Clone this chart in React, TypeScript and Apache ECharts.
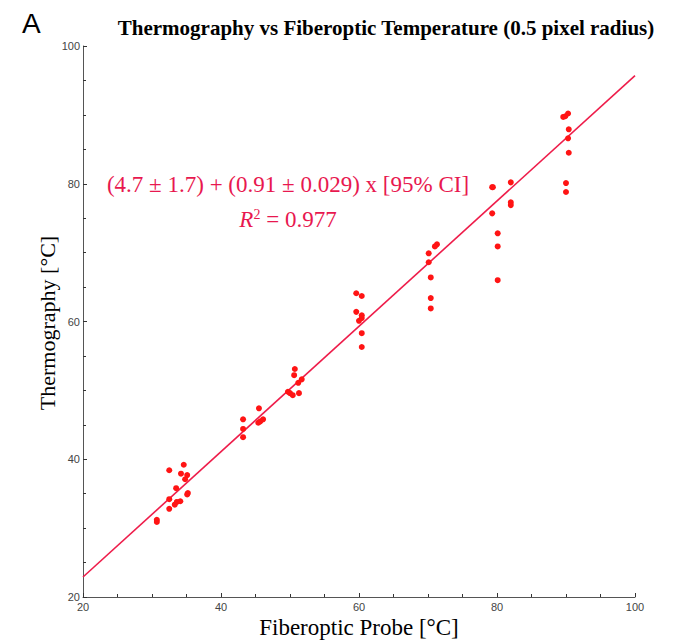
import React, { useEffect, useRef } from "react";
import * as echarts from "echarts";

const probeTemps: number[] = [
  30.7, 30.7, 32.5, 34.6, 34.2, 35.1, 34.8, 33.5, 32.5, 33.6, 34.1, 32.5, 33.3, 35.2, 35.1,
  43.2, 43.2, 43.2, 45.5, 45.4, 45.7, 46.1,
  49.7, 50.0, 50.4, 51.3, 51.2, 51.7, 50.6, 50.7,
  59.6, 60.4, 59.6, 60.4, 60.4, 60.0, 60.4, 60.4,
  71.3, 71.0, 70.1, 70.1, 70.4, 70.4, 70.4,
  79.3, 79.4, 82.0, 82.0, 82.0, 79.3, 80.1, 80.1, 80.1,
  90.0, 90.0, 89.6, 89.9, 90.3, 90.4, 90.3, 90.4,
];
const thermoTemps: number[] = [
  31.2, 30.9, 38.4, 39.2, 37.9, 37.7, 37.1, 35.8, 34.2, 33.8, 33.9, 32.8, 33.4, 35.1, 34.9,
  43.2, 44.4, 45.8, 47.4, 45.3, 45.5, 45.8,
  49.8, 49.6, 49.3, 49.6, 51.1, 51.6, 52.2, 53.1,
  64.1, 63.7, 61.4, 60.9, 60.5, 60.1, 58.3, 56.3,
  71.2, 70.9, 69.9, 68.6, 66.4, 63.4, 61.9,
  79.5, 79.5, 80.2, 77.3, 76.9, 75.7, 72.8, 70.9, 66.0,
  80.1, 78.8, 89.7, 89.8, 90.2, 87.9, 86.6, 84.5,
];
const fitIntercept = 4.7;
const fitSlope = 0.91;
const axisRange: number[] = [20, 100];

const SERIF = "Liberation Serif, Times New Roman, serif";
const TEXT_RED = "#e8184f";

export default function App() {
  const ref = useRef<HTMLDivElement>(null);
  useEffect(() => {
    if (!ref.current) return;
    const chart = echarts.init(ref.current, null, { renderer: "svg" });
    const points = probeTemps.map((x, i) => [x, thermoTemps[i]]);
    const fitLine = axisRange.map((x) => [x, fitIntercept + fitSlope * x]);
    const axisCommon = {
      type: "value",
      min: 20,
      max: 100,
      interval: 20,
      splitLine: { show: false },
      axisLine: { show: true, lineStyle: { color: "#555", width: 1 } },
      axisTick: { show: true, inside: true, length: 4, lineStyle: { color: "#333" } },
      minorTick: { show: true, splitNumber: 4, length: 3, lineStyle: { color: "#333" } },
      axisLabel: {
        color: "#444",
        fontSize: 11,
        fontFamily: "Liberation Sans, Arial, sans-serif",
      },
    };
    chart.setOption({
      animation: false,
      backgroundColor: "#fff",
      grid: { left: 83, right: 39, top: 46, bottom: 43, containLabel: false },
      xAxis: { ...axisCommon, axisLabel: { ...axisCommon.axisLabel, margin: 4 } },
      yAxis: { ...axisCommon, axisLabel: { ...axisCommon.axisLabel, margin: 3 } },
      graphic: [
        {
          type: "text",
          left: 22,
          top: 9,
          style: { text: "A", fontSize: 28, fontFamily: "Liberation Sans, Arial, sans-serif", fill: "#000" },
        },
        {
          type: "text",
          x: 386,
          y: 28,
          style: {
            text: "Thermography vs Fiberoptic Temperature (0.5 pixel radius)",
            fontSize: 21,
            fontWeight: "bold",
            fontFamily: SERIF,
            fill: "#000",
            align: "center",
            verticalAlign: "middle",
          },
        },
        {
          type: "text",
          x: 47,
          y: 323,
          rotation: Math.PI / 2,
          style: {
            text: "Thermography [°C]",
            fontSize: 22,
            fontFamily: SERIF,
            fill: "#000",
            align: "center",
            verticalAlign: "middle",
          },
        },
        {
          type: "text",
          x: 359,
          y: 627,
          style: {
            text: "Fiberoptic Probe [°C]",
            fontSize: 23,
            fontFamily: SERIF,
            fill: "#000",
            align: "center",
            verticalAlign: "middle",
          },
        },
        {
          type: "text",
          x: 288,
          y: 184,
          style: {
            text: "(4.7 ± 1.7) + (0.91 ± 0.029) x [95% CI]",
            fontSize: 23,
            fontFamily: SERIF,
            fill: TEXT_RED,
            align: "center",
            verticalAlign: "middle",
          },
        },
        {
          type: "text",
          x: 288,
          y: 219,
          style: {
            text: "{r|R}{s|2}{n| = 0.977}",
            align: "center",
            verticalAlign: "middle",
            rich: {
              r: { fontSize: 23, fontStyle: "italic", fontFamily: SERIF, fill: TEXT_RED, verticalAlign: "bottom" },
              s: { fontSize: 14, fontFamily: SERIF, fill: TEXT_RED, verticalAlign: "top", padding: [0, 0, 10, 0] },
              n: { fontSize: 23, fontFamily: SERIF, fill: TEXT_RED, verticalAlign: "bottom" },
            },
          },
        },
      ],
      series: [
        {
          type: "line",
          data: fitLine,
          symbol: "none",
          lineStyle: { color: "#ee1c4a", width: 1.6 },
          z: 2,
        },
        {
          type: "scatter",
          data: points,
          symbol: "circle",
          symbolSize: 6,
          itemStyle: { color: "#ff1414", opacity: 1 },
          z: 3,
        },
      ],
    });
    return () => chart.dispose();
  }, []);
  return <div ref={ref} style={{ width: 674, height: 640, position: "absolute", left: 0, top: 0 }} />;
}
